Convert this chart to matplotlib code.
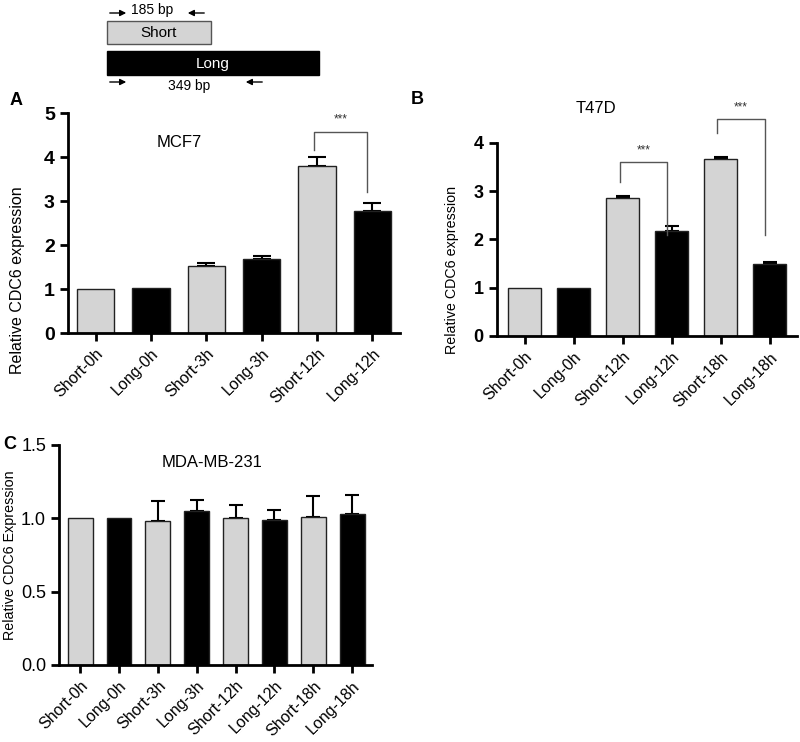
import matplotlib.pyplot as plt
from matplotlib.patches import Rectangle

plt.rcParams['font.family'] = ['Liberation Sans', 'DejaVu Sans']

# panel A - MCF7
a_labels = ["Short-0h", "Long-0h", "Short-3h", "Long-3h", "Short-12h", "Long-12h"]
a_means = [1.0, 1.02, 1.52, 1.68, 3.80, 2.77]
a_err = [0.0, 0.0, 0.07, 0.07, 0.20, 0.18]

# panel B - T47D
b_labels = ["Short-0h", "Long-0h", "Short-12h", "Long-12h", "Short-18h", "Long-18h"]
b_means = [1.0, 1.0, 2.85, 2.17, 3.66, 1.50]
b_err = [0.0, 0.0, 0.05, 0.10, 0.05, 0.03]

# panel C - MDA-MB-231
c_labels = ["Short-0h", "Long-0h", "Short-3h", "Long-3h",
            "Short-12h", "Long-12h", "Short-18h", "Long-18h"]
c_means = [1.0, 1.0, 0.98, 1.05, 1.0, 0.99, 1.01, 1.03]
c_err = [0.0, 0.0, 0.135, 0.075, 0.09, 0.065, 0.14, 0.13]

GRAY = "#d4d4d4"
fig = plt.figure(figsize=(8, 7.42), dpi=100)


def bar_panel(ax, labels, means, err, width, capsize, xlim, ylim, yticks,
              title, title_xy, bold_ticks, ytick_size):
    x = list(range(len(labels)))
    colors = [GRAY if l.startswith("Short") else "black" for l in labels]
    ax.bar(x, means, width=width, color=colors, edgecolor="#222222", linewidth=1.0, zorder=2)
    # only bars that have a real error bar
    ex = [i for i in x if err[i] > 0]
    ax.errorbar(ex, [means[i] for i in ex], yerr=[[0] * len(ex), [err[i] for i in ex]],
                fmt="none", ecolor="black", elinewidth=1.5, capsize=capsize,
                capthick=1.5, zorder=1)
    ax.set_xlim(*xlim)
    ax.set_ylim(*ylim)
    ax.set_yticks(yticks)
    ax.set_xticks(x)
    ax.set_xticklabels(labels, rotation=45, ha="right", rotation_mode="anchor", fontsize=11.5)
    for s in ["top", "right"]:
        ax.spines[s].set_visible(False)
    for s in ["left", "bottom"]:
        ax.spines[s].set_linewidth(2)
    ax.tick_params(axis="both", width=2, length=6, direction="out")
    for t in ax.get_yticklabels():
        t.set_fontsize(ytick_size)
        if bold_ticks:
            t.set_fontweight("bold")
    ax.text(title_xy[0], title_xy[1], title, transform=ax.transAxes, ha="center",
            va="center", fontsize=12)
    return x


def bracket(ax, x1, x2, y1, y2, ytop):
    ax.plot([x1, x1, x2, x2], [y1, ytop, ytop, y2], color="#555555", lw=1.0,
            zorder=3, clip_on=False)
    ax.text((x1 + x2) / 2, ytop + (ax.get_ylim()[1] * 0.03), "***", ha="center",
            va="bottom", fontsize=8.5, color="#333333")


axA = fig.add_axes([0.085, 0.5512, 0.415, 0.2965])
bar_panel(axA, a_labels, a_means, a_err, 0.67, 6.5, (-0.5, 5.5), (0, 5), [0, 1, 2, 3, 4, 5],
          "MCF7", (0.334, 0.864), True, 14)
axA.set_ylabel("Relative CDC6 expression", fontsize=11.5)
axA.yaxis.set_label_coords(-0.13, 0.24)
bracket(axA, 4 - 0.05, 5 - 0.1, 4.15, 3.2, 4.57)

axB = fig.add_axes([0.621, 0.5472, 0.375, 0.2601])
bar_panel(axB, b_labels, b_means, b_err, 0.67, 4.7, (-0.57, 5.55), (0, 4), [0, 1, 2, 3, 4],
          "T47D", (0.33, 1.18), True, 13)
axB.set_ylabel("Relative CDC6 expression", fontsize=10.3)
axB.yaxis.set_label_coords(-0.127, 0.34)
bracket(axB, 2 - 0.05, 3 - 0.1, 3.2, 2.1, 3.6)
bracket(axB, 4 - 0.08, 5 - 0.1, 4.2, 2.1, 4.5)

axC = fig.add_axes([0.074, 0.1038, 0.391, 0.2965])
bar_panel(axC, c_labels, c_means, c_err, 0.64, 4.7, (-0.54, 7.51), (0, 1.5),
          [0.0, 0.5, 1.0, 1.5], "MDA-MB-231", (0.49, 0.92), False, 13)
axC.set_yticklabels(["0.0", "0.5", "1.0", "1.5"], fontsize=13)
axC.set_ylabel("Relative CDC6 Expression", fontsize=10.3)
axC.yaxis.set_label_coords(-0.134, 0.5)

# panel letters
fig.text(0.012, 0.858, "A", fontsize=13, fontweight="bold")
fig.text(0.513, 0.86, "B", fontsize=13, fontweight="bold")
fig.text(0.004, 0.395, "C", fontsize=13, fontweight="bold")

# amplicon schematic on top
sch = fig.add_axes([0, 0, 1, 1])
sch.set_xlim(0, 800)
sch.set_ylim(742, 0)
sch.axis("off")
sch.add_patch(Rectangle((107, 21), 104, 23, facecolor=GRAY, edgecolor="#555555", lw=1))
sch.text(159, 33, "Short", ha="center", va="center", fontsize=11)
sch.add_patch(Rectangle((107, 51), 212, 24, facecolor="black", edgecolor="black", lw=1))
sch.text(213, 64, "Long", ha="center", va="center", fontsize=11, color="white")
arrow = dict(arrowstyle="-|>", color="black", lw=1, mutation_scale=9)
sch.annotate("", xy=(129, 13), xytext=(107, 13), arrowprops=arrow)
sch.annotate("", xy=(185, 13), xytext=(207, 13), arrowprops=arrow)
sch.text(152, 10, "185 bp", ha="center", va="center", fontsize=10)
sch.annotate("", xy=(129, 82), xytext=(107, 82), arrowprops=arrow)
sch.annotate("", xy=(243, 82), xytext=(265, 82), arrowprops=arrow)
sch.text(189, 86, "349 bp", ha="center", va="center", fontsize=10)

fig.savefig("out.png", dpi=100)
